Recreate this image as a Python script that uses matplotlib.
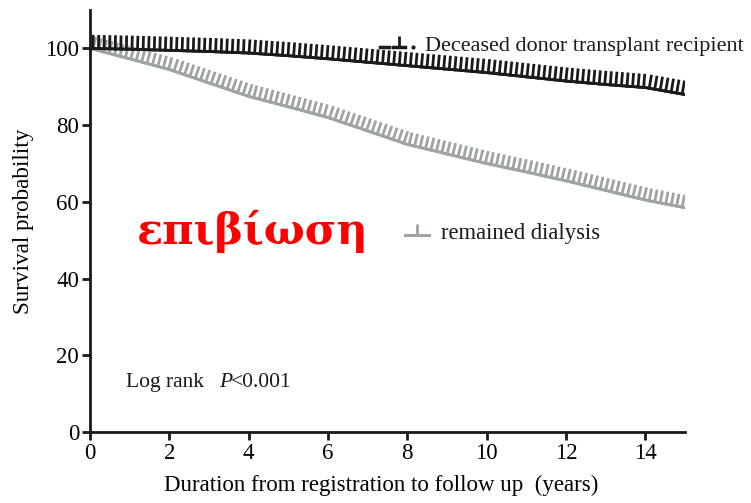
import matplotlib
matplotlib.use("Agg")
import matplotlib.pyplot as plt
import matplotlib.patheffects as pe

years = [0, 1, 2, 3, 4, 5, 6, 7, 8, 9, 10, 11, 12, 13, 14, 15]
deceased = [100, 99.8, 99.5, 99.2, 98.8, 98.1, 97.3, 96.4, 95.5, 94.6, 93.7, 92.6, 91.5, 90.6, 89.8, 88.0]
dialysis = [100, 97.3, 94.5, 91.0, 87.5, 84.8, 82.0, 78.5, 75.0, 72.5, 70.0, 67.8, 65.5, 63.0, 60.5, 58.5]
xticks = [0, 2, 4, 6, 8, 10, 12, 14]
yticks = [0, 20, 40, 60, 80, 100]

plt.rcParams['font.family'] = ['Liberation Serif', 'DejaVu Serif']

fig = plt.figure(figsize=(7.51, 5.03), dpi=100)
ax = fig.add_axes([0.12, 0.141, 0.792, 0.839])

black = '#1a1a1a'
grey = '#9ea4a4'

ax.plot(years, dialysis, color=grey, lw=2.0,
        path_effects=[pe.withTickedStroke(angle=90, spacing=4, length=2.0), pe.Normal()])
ax.plot(years, deceased, color=black, lw=2.0,
        path_effects=[pe.withTickedStroke(angle=90, spacing=4, length=2.2), pe.Normal()])

ax.set_xlim(0, 15)
ax.set_ylim(0, 110)
ax.set_xticks(xticks)
ax.set_yticks(yticks)
ax.tick_params(axis='both', labelsize=16.5, width=2, length=6, pad=2, direction='out', color=black)
for s in ['top', 'right']:
    ax.spines[s].set_visible(False)
for s in ['left', 'bottom']:
    ax.spines[s].set_linewidth(2)
    ax.spines[s].set_color(black)

ax.set_xlabel('Duration from registration to follow up  (years)', fontsize=16.5, labelpad=8)
ax.xaxis.label.set_x(0.49)
ax.set_ylabel('Survival probability', fontsize=16.7, labelpad=8)

# legend-like annotations
ax.plot([7.3, 7.55], [100.5, 100.5], color=black, lw=2.5)
ax.plot([7.65, 7.95], [100.5, 100.5], color=black, lw=2.5)
ax.plot([7.8], [100.5], color=black, marker=2, markersize=8, mew=2)
ax.plot([8.15], [100.5], color=black, marker='.', markersize=4)
ax.text(8.45, 100.5, 'Deceased donor transplant recipient', fontsize=16, va='center', ha='left', color=black)
ax.plot([7.95, 8.55], [51.3, 51.3], color=grey, lw=2.2)
ax.plot([8.25], [51.3], color=grey, marker=2, markersize=8, mew=2)
ax.text(8.85, 51.8, 'remained dialysis', fontsize=16.3, va='center', ha='left', color=black)

ax.text(0.9, 13.0, 'Log rank', fontsize=15.5, va='center', ha='left', color=black)
ax.text(3.25, 13.0, 'P', fontsize=15.5, style='italic', va='center', ha='left', color=black)
ax.text(3.55, 13.0, '<0.001', fontsize=15.5, va='center', ha='left', color=black)

ax.text(4.1, 52.4, 'επιβίωση', fontsize=31, fontweight='bold', color='#ff0000',
        family=['DejaVu Serif'], ha='center', va='center')

fig.savefig('out.png', dpi=100)
